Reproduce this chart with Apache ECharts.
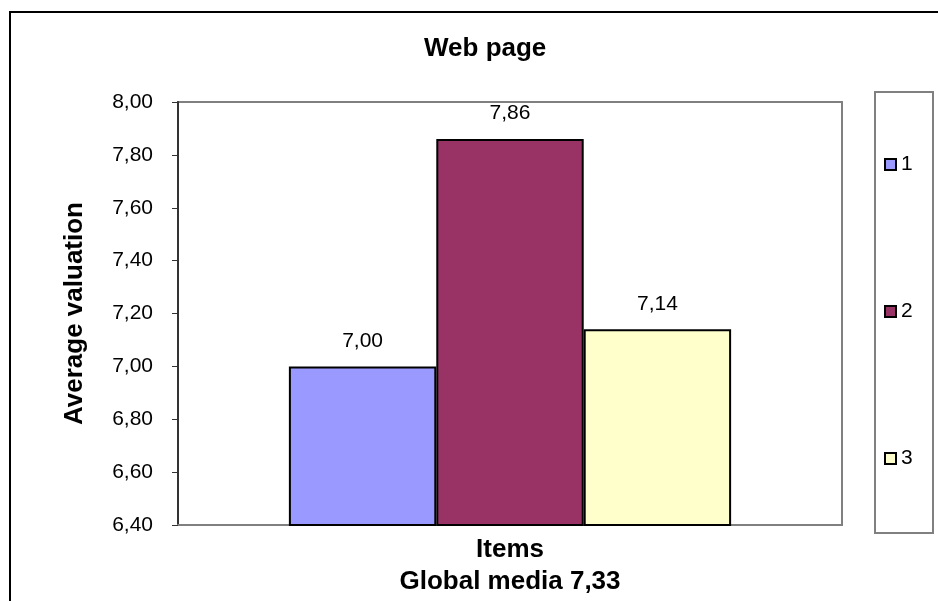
<!DOCTYPE html>
<html>
<head>
<meta charset="utf-8">
<script src="https://cdn.jsdelivr.net/npm/echarts@6/dist/echarts.min.js"></script>
<style>
  html, body { margin: 0; padding: 0; background: #fff; }
  #chart { width: 938px; height: 601px; }
</style>
</head>
<body>
<div id="chart"></div>
<script>
// Chart data
var categories = ['Items'];
var seriesNames = ['1', '2', '3'];
var seriesValues = [7.00, 7.86, 7.14];
var seriesColors = ['#9999FF', '#993366', '#FFFFCC'];
var yMin = 6.4, yMax = 8.0, yStep = 0.2;
var chartTitle = 'Web page';
var yAxisTitle = 'Average valuation';
var xAxisTitle = 'Items\nGlobal media 7,33';

function comma(v) { return v.toFixed(2).replace('.', ','); }

var FONT = '"Liberation Sans", Arial, sans-serif';

var chart = echarts.init(document.getElementById('chart'), null, { renderer: 'canvas' });

var series = seriesNames.map(function (name, i) {
  return {
    name: name,
    type: 'bar',
    data: [seriesValues[i]],
    barGap: '0%',
    barCategoryGap: '33.4%',
    itemStyle: { color: seriesColors[i], borderColor: '#000', borderWidth: 2 },
    label: {
      show: true, position: 'top', distance: 15,
      formatter: function (p) { return comma(p.value); },
      fontFamily: FONT, fontSize: 21, color: '#000'
    },
    emphasis: { disabled: true },
    animation: false
  };
});

chart.setOption({
  animation: false,
  backgroundColor: '#fff',
  title: {
    text: chartTitle, left: 419, top: 31,
    textStyle: { fontFamily: FONT, fontSize: 26, fontWeight: 'bold', color: '#000' }
  },
  grid: {
    left: 178, top: 102, right: 96, bottom: 76,
    outerBoundsMode: 'none', containLabel: false,
    show: true, borderColor: '#808080', borderWidth: 2, backgroundColor: '#fff'
  },
  legend: {
    orient: 'vertical', left: 879, top: 149,
    itemWidth: 11, itemHeight: 11, itemGap: 126,
    icon: 'rect',
    textStyle: { fontFamily: FONT, fontSize: 21, color: '#000', lineHeight: 18 },
    data: seriesNames
  },
  xAxis: {
    type: 'category', data: categories,
    axisLine: { lineStyle: { color: '#808080', width: 2 } },
    axisTick: { show: false },
    axisLabel: { show: false },
    name: xAxisTitle, nameLocation: 'middle', nameGap: 9,
    nameTextStyle: { fontFamily: FONT, fontSize: 26, fontWeight: 'bold', color: '#000', lineHeight: 32, verticalAlign: 'top' }
  },
  yAxis: {
    type: 'value', min: yMin, max: yMax, interval: yStep,
    axisLine: { show: true, lineStyle: { color: '#333', width: 2 } },
    axisTick: { show: true, length: 6, lineStyle: { color: '#333', width: 1 } },
    splitLine: { show: false },
    axisLabel: { formatter: function (v) { return comma(v); }, fontFamily: FONT, fontSize: 21, color: '#000', margin: 25 },
    name: yAxisTitle, nameLocation: 'middle', nameGap: 90, nameRotate: 90,
    nameTextStyle: { fontFamily: FONT, fontSize: 26, fontWeight: 'bold', color: '#000' }
  },
  graphic: [
    { type: 'rect', shape: { x: 10, y: 12, width: 960, height: 620 }, style: { fill: null, stroke: '#000', lineWidth: 2 }, silent: true, z: 100 },
    { type: 'rect', shape: { x: 875, y: 92, width: 58, height: 441 }, style: { fill: null, stroke: '#808080', lineWidth: 2 }, silent: true, z: 100 }
  ],
  series: series
});
</script>
</body>
</html>
